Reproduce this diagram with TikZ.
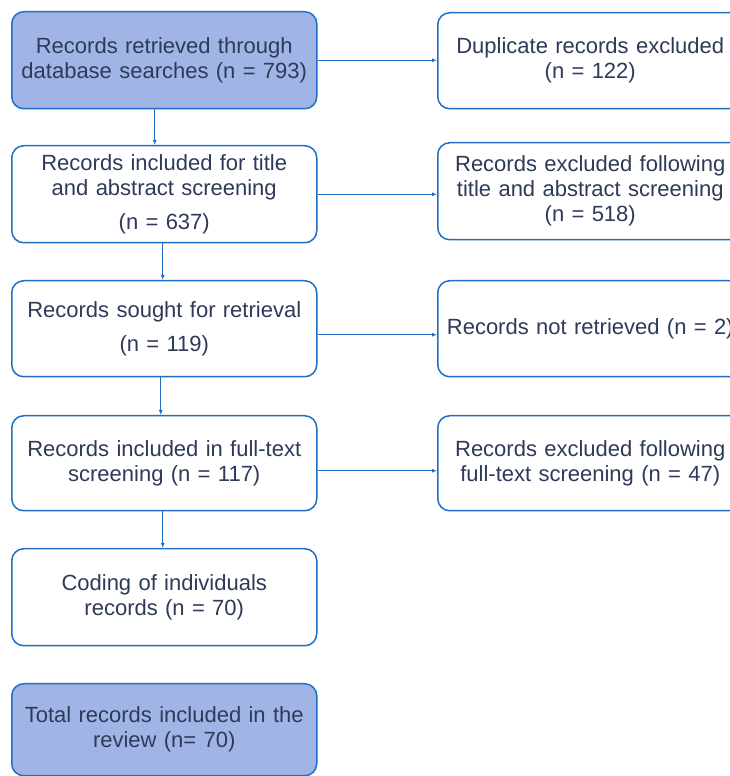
\documentclass[tikz,border=0pt]{standalone}
\usepackage{fontspec}
\setmainfont{Liberation Sans}
\usepackage{xcolor}
\usetikzlibrary{arrows.meta, positioning}
\definecolor{ink}{HTML}{2E3A59}
\definecolor{edgeB}{HTML}{1F6FC5}
\definecolor{blueF}{HTML}{A0B5E5}
\tikzset{
  body/.style={font=\fontsize{22}{25}\selectfont, text=ink},
  box/.style={body, rounded corners=12pt, draw=edgeB, line width=1.5pt, fill=white, inner sep=0pt, align=center, text width=295pt, minimum width=305pt, anchor=north west},
  bluebox/.style={box, fill=blueF},
  flow/.style={draw=edgeB, line width=1pt, -{Latex[length=5pt,width=4pt]}}
}

\begin{document}
\begin{tikzpicture}[x=1pt,y=1pt]
\useasboundingbox (0,0) rectangle (730,776);
\clip (0,0) rectangle (730,776);

% left column
\node[bluebox, minimum height=97pt] (search) at (11,765)
{Records retrieved through\\database searches (n = 793)};

\node[box, minimum height=97pt] (title) at (11,631)
{Records included for title\\and abstract screening\\[9pt](n = 637)};

\node[box, minimum height=96pt] (sought) at (11,496)
{Records sought for retrieval\\[9pt](n = 119)};

\node[box, minimum height=95pt] (fulltext) at (11,361)
{Records included in full-text\\screening (n = 117)};

\node[box, minimum height=97pt] (coding) at (11,228)
{Coding of individuals\\records (n = 70)};

\node[bluebox, minimum height=92pt] (total) at (11,93)
{Total records included in the\\review (n= 70)};

% right column
\node[box, minimum height=96pt] (dupl) at (437,764)
{Duplicate records excluded\\(n = 122)};

\node[box, minimum height=97pt] (exTitle) at (437,634)
{Records excluded following\\title and abstract screening\\(n = 518)};

\node[box, minimum height=96pt] (notRet) at (437,496)
{Records not retrieved (n = 2)};

\node[box, minimum height=95pt] (exFull) at (437,361)
{Records excluded following\\full-text screening (n = 47)};

% arrows down
\draw[flow] ([xshift=-9.5pt]search.south) -- ([xshift=-9.5pt]title.north);
\draw[flow] ([xshift=-1.5pt]title.south) -- ([xshift=-1.5pt]sought.north);
\draw[flow] ([xshift=-3.5pt]sought.south) -- ([xshift=-3.5pt]fulltext.north);
\draw[flow] ([xshift=-1.5pt]fulltext.south) -- ([xshift=-1.5pt]coding.north);

% arrows right
\draw[flow] (search.east) -- (search.east -| dupl.west);
\draw[flow] (title.east) -- (title.east -| exTitle.west);
\draw[flow] ([yshift=-6pt]sought.east) -- ([yshift=-6pt]sought.east -| notRet.west);
\draw[flow] ([yshift=-7.5pt]fulltext.east) -- ([yshift=-7.5pt]fulltext.east -| exFull.west);

\end{tikzpicture}
\end{document}
